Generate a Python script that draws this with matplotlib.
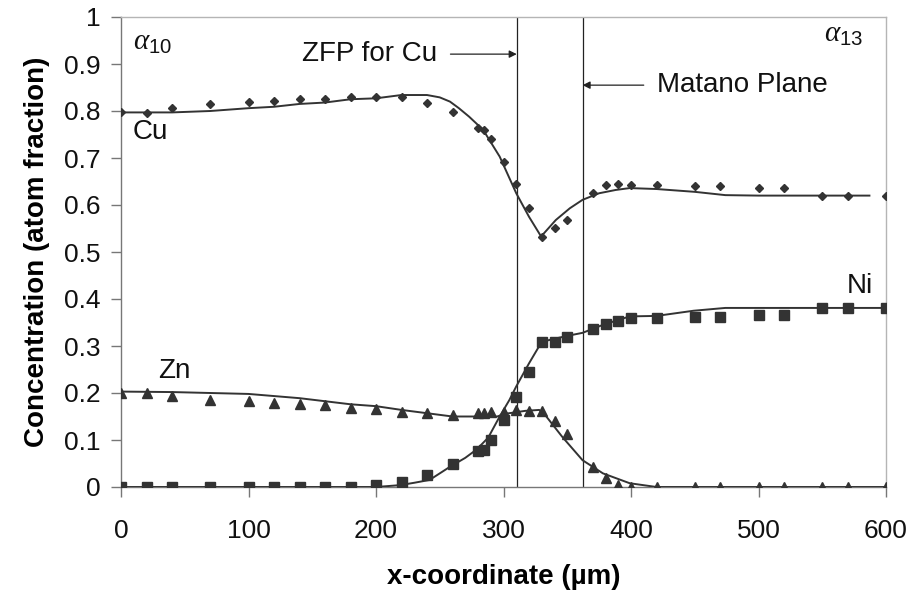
import matplotlib
matplotlib.use("Agg")
import matplotlib.pyplot as plt

plt.rcParams["font.family"] = ["Liberation Sans", "DejaVu Sans"]
plt.rcParams["mathtext.fontset"] = "custom"
plt.rcParams["mathtext.it"] = "Liberation Serif:italic"
plt.rcParams["mathtext.rm"] = "Liberation Sans"

# Measured composition profile (atom fraction) vs. position (µm)
x_pos = [0, 20, 40, 70, 100, 120, 140, 160, 180, 200, 220, 240, 260, 280, 285,
         290, 300, 310, 320, 330, 340, 350, 370, 380, 390, 400, 420, 450, 470,
         500, 520, 550, 570, 600]
cu_meas = [0.797, 0.795, 0.807, 0.814, 0.819, 0.821, 0.825, 0.825, 0.829, 0.829,
           0.830, 0.818, 0.798, 0.764, 0.760, 0.741, 0.692, 0.645, 0.593, 0.531,
           0.552, 0.568, 0.625, 0.642, 0.645, 0.643, 0.643, 0.640, 0.640, 0.636,
           0.636, 0.620, 0.620, 0.620]
ni_meas = [0, 0, 0, 0, 0, 0, 0, 0, 0, 0.005, 0.011, 0.026, 0.048, 0.077, 0.079,
           0.101, 0.143, 0.191, 0.245, 0.309, 0.309, 0.320, 0.336, 0.347, 0.354,
           0.360, 0.360, 0.362, 0.362, 0.366, 0.366, 0.381, 0.381, 0.381]
zn_meas = [0.201, 0.201, 0.194, 0.185, 0.182, 0.179, 0.177, 0.175, 0.169, 0.166,
           0.160, 0.158, 0.154, 0.158, 0.158, 0.160, 0.160, 0.163, 0.162, 0.161,
           0.140, 0.112, 0.042, 0.019, 0.004, 0, 0, 0, 0, 0, 0, 0, 0, 0]

# Fitted (smoothed) profiles
cu_fit_x = [0, 40, 70, 100, 120, 140, 160, 180, 200, 220, 240, 250, 258, 265, 273,
            284, 297, 310, 320, 329.5, 341, 352, 362, 375, 388, 399, 420, 450,
            474, 500, 587]
cu_fit_y = [0.797, 0.797, 0.800, 0.806, 0.809, 0.815, 0.818, 0.825, 0.827, 0.834,
            0.834, 0.829, 0.820, 0.806, 0.788, 0.760, 0.703, 0.625, 0.575, 0.533,
            0.568, 0.593, 0.611, 0.625, 0.632, 0.636, 0.634, 0.628, 0.621, 0.620,
            0.620]
ni_fit_x = [0, 200, 219, 230, 242, 258, 270, 279, 288, 297, 304.6, 310, 320, 330,
            349, 362, 378, 399, 420, 449, 474, 600]
ni_fit_y = [0, 0, 0.004, 0.009, 0.015, 0.043, 0.062, 0.080, 0.105, 0.150, 0.185,
            0.214, 0.263, 0.309, 0.321, 0.328, 0.345, 0.363, 0.364, 0.375, 0.381,
            0.381]
zn_fit_x = [0, 40, 100, 140, 180, 200, 220, 240, 260, 280, 295, 302, 317, 328,
            333, 346, 362, 378, 399, 420, 600]
zn_fit_y = [0.203, 0.202, 0.198, 0.189, 0.176, 0.172, 0.164, 0.157, 0.150, 0.150,
            0.150, 0.156, 0.162, 0.164, 0.152, 0.107, 0.057, 0.029, 0.008, 0.0, 0.0]

zfp_x = 310.4
matano_x = 362

x_ticks = [0, 100, 200, 300, 400, 500, 600]
y_ticks = [0, 0.1, 0.2, 0.3, 0.4, 0.5, 0.6, 0.7, 0.8, 0.9, 1]
y_tick_labels = ["0", "0.1", "0.2", "0.3", "0.4", "0.5", "0.6", "0.7", "0.8", "0.9", "1"]

ink = "#333333"

fig = plt.figure(figsize=(9.10, 5.97), dpi=100)
ax = fig.add_axes([121 / 910, 1 - 487 / 597, (886 - 121) / 910, (487 - 17) / 597])

# plane markers
ax.plot([zfp_x, zfp_x], [0, 1], color="#222222", lw=0.9, zorder=2)
ax.plot([matano_x, matano_x], [0, 1], color="#222222", lw=0.9, zorder=2)

# fitted curves
for fx, fy in ((cu_fit_x, cu_fit_y), (ni_fit_x, ni_fit_y), (zn_fit_x, zn_fit_y)):
    ax.plot(fx, fy, color=ink, lw=1.4, zorder=3, solid_joinstyle="round")

# measured points
ax.plot(x_pos, cu_meas, ls="none", marker="D", ms=4.4, color=ink, zorder=4)
ax.plot(x_pos, ni_meas, ls="none", marker="s", ms=6.5, color=ink, zorder=4)
ax.plot(x_pos, zn_meas, ls="none", marker="^", ms=7.5, color=ink, zorder=4)

ax.set_xlim(0, 600)
ax.set_ylim(0, 1)
ax.set_xticks(x_ticks)
ax.set_yticks(y_ticks)
ax.set_yticklabels(y_tick_labels)
ax.tick_params(axis="both", direction="out", length=7, width=1, color="#777777",
               labelsize=19, labelcolor="#111111")
ax.tick_params(axis="x", pad=16)
ax.tick_params(axis="y", pad=8)

for side in ("left", "bottom"):
    ax.spines[side].set_color("#777777")
    ax.spines[side].set_linewidth(1)
for side in ("top", "right"):
    ax.spines[side].set_color("#b5b5b5")
    ax.spines[side].set_linewidth(1)

ax.set_xlabel("x-coordinate (µm)", fontsize=20, fontweight="bold", labelpad=15)
ax.set_ylabel("Concentration (atom fraction)", fontsize=20, fontweight="bold",
              labelpad=10)

# labels
ax.text(9.4, 0.755, "Cu", fontsize=20, va="center", ha="left", color="#111111")
ax.text(29, 0.247, "Zn", fontsize=20, va="center", ha="left", color="#111111")
ax.text(569, 0.428, "Ni", fontsize=20, va="center", ha="left", color="#111111")
ax.text(9.4, 0.93, r"$\alpha_{10}$", fontsize=21, va="baseline", ha="left",
        color="#111111")
ax.text(551, 0.947, r"$\alpha_{13}$", fontsize=21, va="baseline", ha="left",
        color="#111111")

ax.text(248, 0.921, "ZFP for Cu", fontsize=20, va="center", ha="right",
        color="#111111")
ax.annotate("", xy=(zfp_x, 0.921), xytext=(258.4, 0.921),
            arrowprops=dict(arrowstyle="-|>", color="#222222", lw=0.9,
                            mutation_scale=11, shrinkA=0, shrinkB=0))
ax.text(420.5, 0.855, "Matano Plane", fontsize=20, va="center", ha="left",
        color="#111111")
ax.annotate("", xy=(matano_x, 0.855), xytext=(410, 0.855),
            arrowprops=dict(arrowstyle="-|>", color="#222222", lw=0.9,
                            mutation_scale=11, shrinkA=0, shrinkB=0))

fig.savefig("out.png", dpi=100)
